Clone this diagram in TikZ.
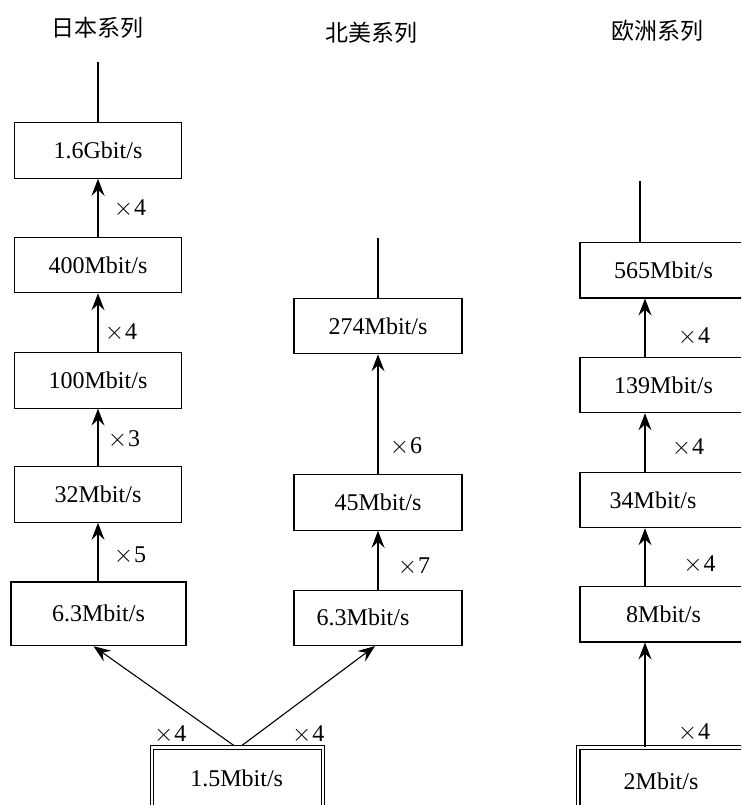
\documentclass[tikz,border=0pt]{standalone}
\usepackage{fontspec}
\setmainfont{Liberation Serif}
\newfontfamily\cjk{Noto Sans CJK SC}
\usetikzlibrary{arrows.meta}
\begin{document}
\begin{tikzpicture}[x=1pt,y=-1pt,
  every node/.style={font=\fontsize{24}{28}\selectfont},
  box/.style={draw, line width=1.1pt, minimum width=167pt, minimum height=55.5pt, inner sep=0pt},
  dbox/.style={box, double, double distance=2.3pt},
  title/.style={font=\cjk\fontsize{23}{27}\selectfont, inner sep=0pt},
  factor/.style={inner sep=0pt},
  link/.style={line width=1.1pt},
  up/.style={link, -{Stealth[length=17pt,width=13pt,inset=6pt]}}]
\useasboundingbox (0,0) rectangle (741,805);
\clip (0,0) rectangle (741,805);

\newcommand{\fac}[1]{{\fontsize{31}{31}\selectfont$\times$}\kern1pt#1}

% column titles
\node[title] (tj) at (97.5,27.5) {日本系列};
\node[title] (tn) at (371.7,33) {北美系列};
\node[title] (te) at (657.5,31) {欧洲系列};

% Japanese hierarchy
\node[box] (j1) at (98,150.5) {1.6Gbit/s};
\node[box] (j2) at (98,265) {400Mbit/s};
\node[box] (j3) at (98,380.3) {100Mbit/s};
\node[box] (j4) at (98,494.5) {32Mbit/s};
\node[box, minimum width=175pt, minimum height=63.7pt] (j5) at (98.5,613.8) {6.3Mbit/s};
\coordinate (jtop) at (98,62);

% North American hierarchy
\node[box, minimum width=168pt] (n3) at (378,326) {274Mbit/s};
\node[box, minimum width=168pt] (n2) at (378,502.5) {45Mbit/s};
\node[box, minimum width=168pt] (n1) at (378,617.8) {\hspace*{-30pt}6.3Mbit/s};
\coordinate (ntop) at (378,238);

% European hierarchy
\node[box] (e5) at (663.5,270.2) {565Mbit/s};
\node[box] (e4) at (663.5,385) {139Mbit/s};
\node[box] (e3) at (663.5,500) {\hspace*{-21pt}34Mbit/s};
\node[box] (e2) at (663.5,614.2) {8Mbit/s};
\node[dbox, minimum width=170pt, minimum height=110pt] (e1) at (663.3,802.5) {};
\node (e1t) at (661,781.7) {2Mbit/s};
\coordinate (ex) at (645,0);
\coordinate (etop) at (640,180.7);

% shared primary level
\node[dbox, minimum width=171pt, minimum height=110pt] (b15) at (237.25,802.5) {};
\node (b15t) at (236.7,778) {1.5Mbit/s};

% connectors
\draw[link] (j1.north) -- (jtop);
\draw[up] (j2.north) -- (j1.south);
\draw[up] (j3.north) -- (j2.south);
\draw[up] (j4.north) -- (j3.south);
\draw[up] (j5.north -| j4.south) -- (j4.south);

\draw[link] (n3.north) -- (ntop);
\draw[up] (n2.north) -- (n3.south);
\draw[up] (n1.north) -- (n2.south);

\draw[link] (e5.north -| etop) -- (etop);
\draw[up] (e4.north -| ex) -- (e5.south -| ex);
\draw[up] (e3.north -| ex) -- (e4.south -| ex);
\draw[up] (e2.north -| ex) -- (e3.south -| ex);
\draw[up] (e1.north -| ex) -- (e2.south -| ex);

\draw[up] ([xshift=-3pt,yshift=1.2pt]b15.north) -- ([xshift=-5pt]j5.south);
\draw[up] ([xshift=4.3pt,yshift=1.2pt]b15.north) -- ([xshift=-3pt]n1.south);

% multiplexing factors
\node[factor] (fj1) at (130,209) {\fac{4}};
\node[factor] (fj2) at (121,333) {\fac{4}};
\node[factor] (fj3) at (124,440) {\fac{3}};
\node[factor] (fj4) at (130,556) {\fac{5}};
\node[factor] (fn1) at (406,447) {\fac{6}};
\node[factor] (fn2) at (414,567) {\fac{7}};
\node[factor] (fe1) at (694,337) {\fac{4}};
\node[factor] (fe2) at (688,448) {\fac{4}};
\node[factor] (fe3) at (699.5,565) {\fac{4}};
\node[factor] (fe4) at (694,733) {\fac{4}};
\node[factor] (fb1) at (170.3,735) {\fac{4}};
\node[factor] (fb2) at (308.3,735) {\fac{4}};
\end{tikzpicture}
\end{document}
